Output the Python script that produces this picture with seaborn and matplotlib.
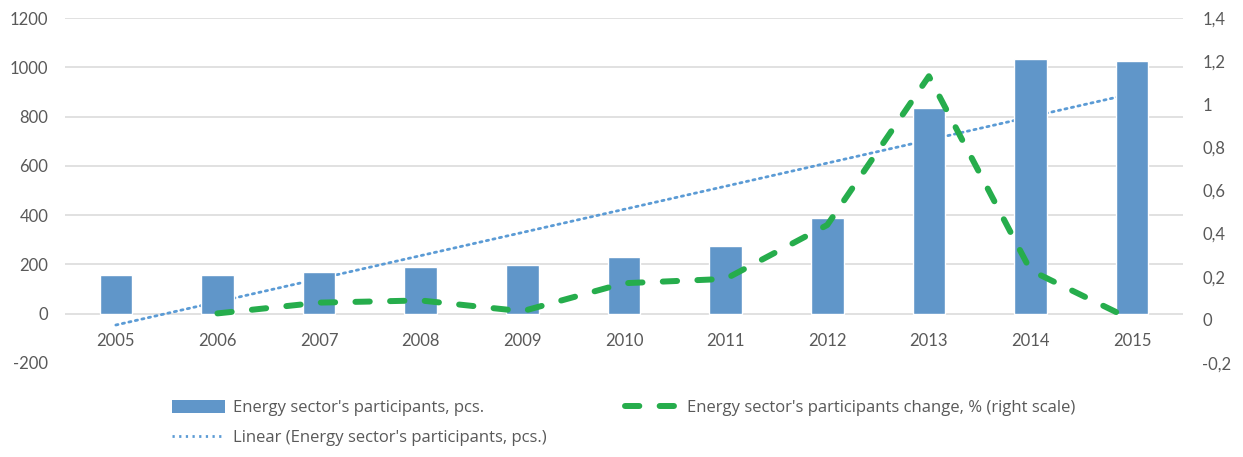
import numpy as np
import matplotlib
matplotlib.use("Agg")
import matplotlib.pyplot as plt
import pandas as pd
import seaborn as sns
from matplotlib.lines import Line2D
from matplotlib.patches import Patch

years = ["2005", "2006", "2007", "2008", "2009", "2010", "2011", "2012", "2013", "2014", "2015"]
participants = [157, 157, 169, 190, 198, 229, 275, 387, 835, 1035, 1026]
change_years = ["2006", "2007", "2008", "2009", "2010", "2011", "2012", "2013", "2014", "2015"]
change = [0.03, 0.08, 0.09, 0.04, 0.17, 0.19, 0.44, 1.13, 0.23, 0.0]

left_ticks = [-200, 0, 200, 400, 600, 800, 1000, 1200]
right_ticks = [-0.2, 0, 0.2, 0.4, 0.6, 0.8, 1, 1.2, 1.4]
right_labels = ["-0,2", "0", "0,2", "0,4", "0,6", "0,8", "1", "1,2", "1,4"]

bar_label = "Energy sector's participants, pcs."
change_label = "Energy sector's participants change, % (right scale)"
trend_label = "Linear (Energy sector's participants, pcs.)"

sns.set_style("white")
plt.rcParams['font.family'] = ['Lato', 'DejaVu Sans']
plt.rcParams['axes.unicode_minus'] = False

bar_color = "#6096C9"
green = "#26AD4C"
text_color = "#595959"

df = pd.DataFrame({"year": years, "participants": participants})
df["pos"] = np.arange(len(years))
dch = pd.DataFrame({"year": change_years, "change": change})
dch["pos"] = [years.index(y) for y in change_years]

fig = plt.figure(figsize=(12.43, 4.57), dpi=100)
ax = fig.add_axes([0.0523, 0.2057, 0.8994, 0.7549])

sns.barplot(data=df, x="year", y="participants", color=bar_color, width=0.32,
            saturation=1, ax=ax, zorder=2)
# linear trend of the bars, drawn behind them
sns.regplot(data=df, x="pos", y="participants", scatter=False, ci=None, ax=ax,
            line_kws=dict(color="#5B9BD5", lw=2, ls=(0, (0.8, 1.6)),
                          dash_capstyle="round", zorder=1.5))

ax.set_xlim(-0.5, len(years) - 0.5)
ax.set_ylim(-200, 1200)
ax.set_yticks(left_ticks)
ax.set_xticks(range(len(years)))
ax.set_xticklabels(years)
ax.set_xlabel("")
ax.set_ylabel("")
ax.grid(True, axis="y", color="#D9D9D9", lw=1.1, zorder=0)
ax.set_axisbelow(True)
ax.get_ygridlines()[0].set_visible(False)
for s in ax.spines.values():
    s.set_visible(False)
ax.spines["bottom"].set_position(("data", 0))
ax.tick_params(axis="x", length=0, pad=14, labelsize=12, labelcolor=text_color)
ax.tick_params(axis="y", length=0, pad=12, labelsize=12, labelcolor=text_color)

ax2 = ax.twinx()
sns.lineplot(data=dch, x="pos", y="change", color=green, lw=4.3, ax=ax2,
             dashes=False)
ax2.lines[0].set_linestyle((0, (2.4, 3.4)))
ax2.lines[0].set_dash_capstyle("round")
ax2.set_ylim(-0.2, 1.4)
ax2.set_yticks(right_ticks)
ax2.set_yticklabels(right_labels)
ax2.set_ylabel("")
ax2.set_xlabel("")
for s in ax2.spines.values():
    s.set_visible(False)
ax2.tick_params(axis="y", length=0, pad=14, labelsize=12, labelcolor=text_color)
ax2.set_xlim(-0.5, len(years) - 0.5)

handles = [
    Patch(facecolor=bar_color, edgecolor="none", label=bar_label),
    Line2D([], [], color="#5B9BD5", lw=2, ls=(0, (0.8, 1.6)), label=trend_label),
    Line2D([], [], color=green, lw=4.3, ls=(0, (2.4, 3.4)), dash_capstyle="round",
           label=change_label),
]
leg = fig.legend(handles=handles, ncol=2, loc="upper left",
                 bbox_to_anchor=(0.126, 0.157), frameon=False,
                 prop={"family": ["Open Sans", "DejaVu Sans"], "size": 12},
                 handlelength=3.2, handleheight=0.75, handletextpad=0.5,
                 columnspacing=4.7, labelspacing=0.85, labelcolor=text_color)

fig.savefig("out.png", dpi=100)
